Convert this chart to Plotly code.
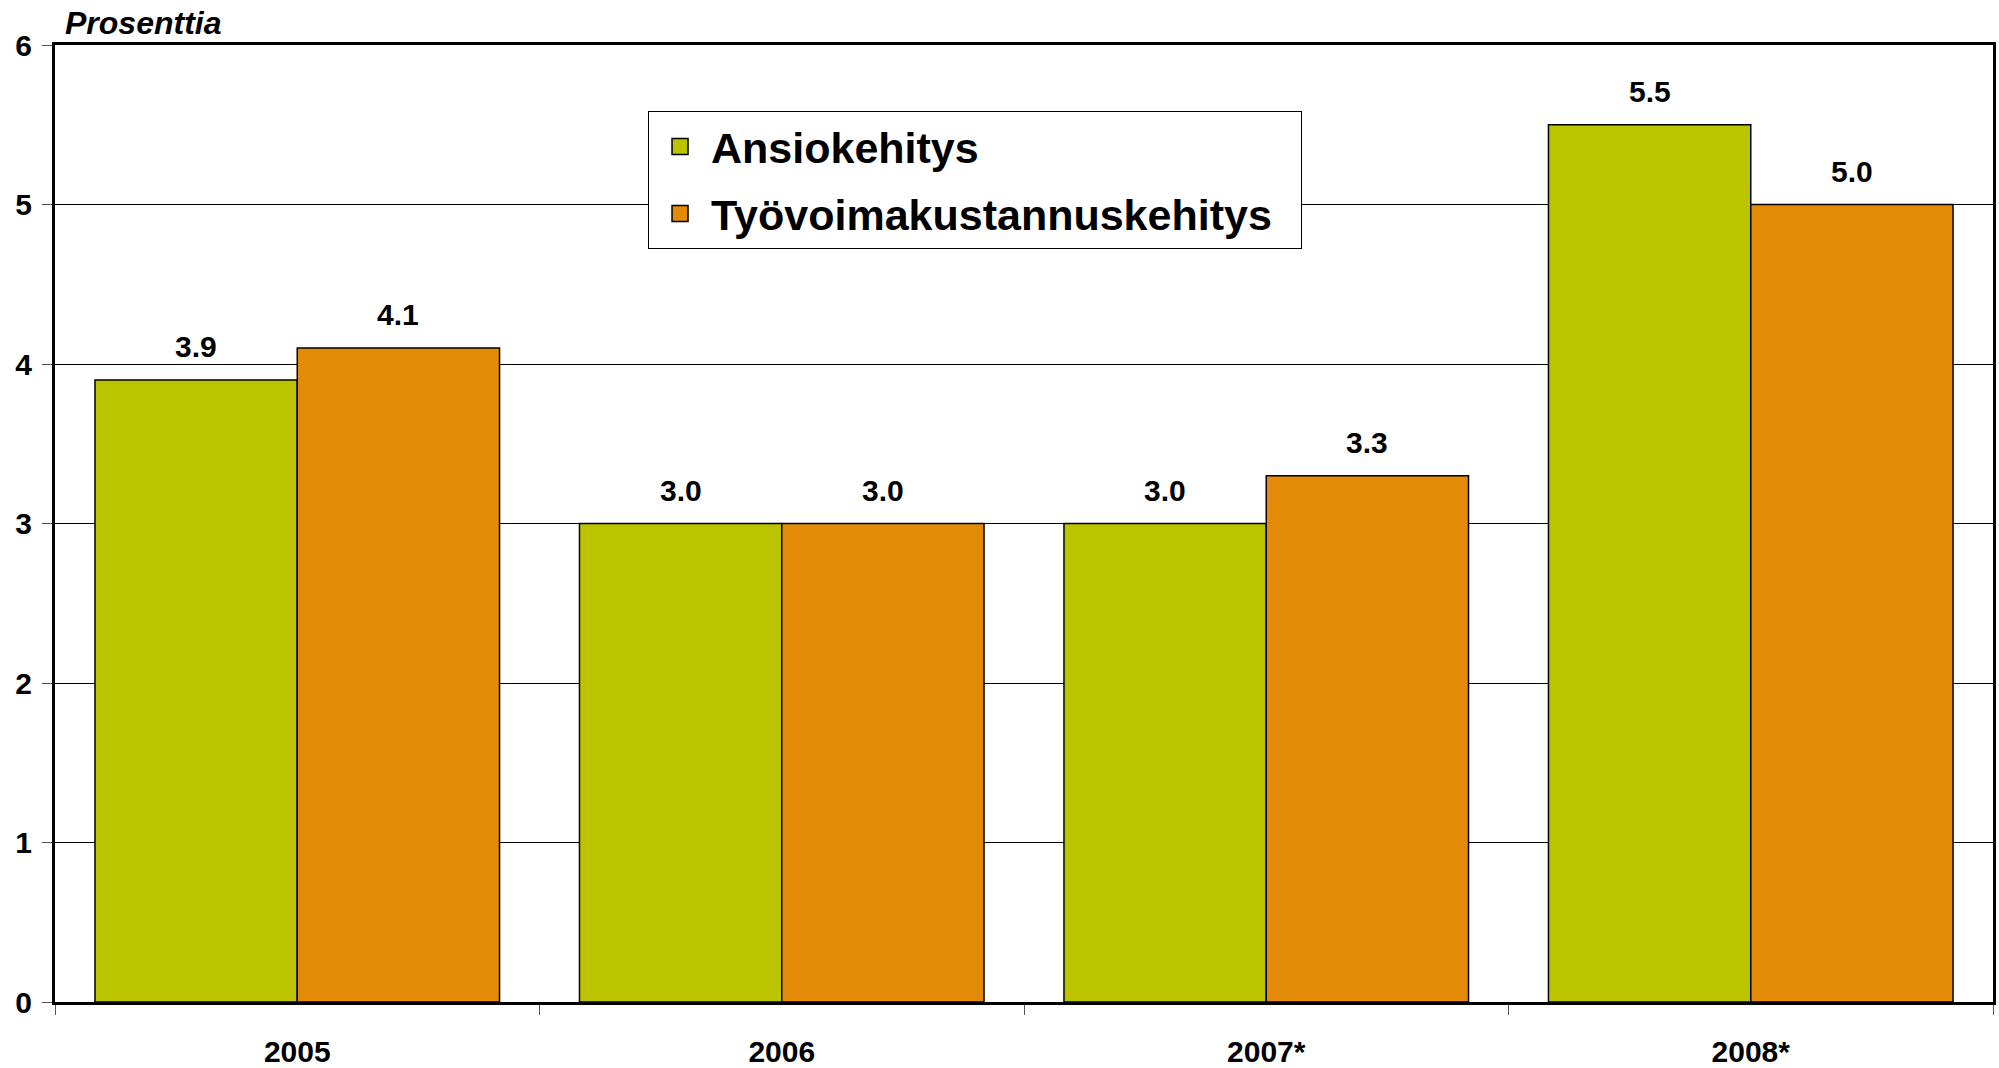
import plotly.graph_objects as go

categories = ["2005", "2006", "2007*", "2008*"]
ansio = [3.9, 3.0, 3.0, 5.5]
tyovoima = [4.1, 3.0, 3.3, 5.0]
series_names = ["Ansiokehitys", "Työvoimakustannuskehitys"]
colors = ["#BCC400", "#E38B08"]
y_ticks = [0, 1, 2, 3, 4, 5, 6]

FONT = "Liberation Sans, Arial, sans-serif"
BARGAP = 0.165

fig = go.Figure()
for i, (name, vals) in enumerate(zip(series_names, [ansio, tyovoima])):
    fig.add_trace(go.Bar(
        x=categories, y=vals, name=name,
        marker=dict(color=colors[i], line=dict(color="black", width=1.5)),
        showlegend=False,
    ))
# legend-only entries with larger square symbols
for i, name in enumerate(series_names):
    fig.add_trace(go.Scatter(
        x=[None], y=[None], mode="markers", name=f"<b>{name}</b>&nbsp;&nbsp;",
        marker=dict(symbol="square", size=30, color=colors[i],
                    line=dict(color="black", width=1.5)),
        legendgroup=f"g{i}",
    ))

offset = (1 - BARGAP) / 4
for si, vals in enumerate([ansio, tyovoima]):
    for ci, v in enumerate(vals):
        fig.add_annotation(
            x=ci + (-offset if si == 0 else offset), y=v,
            text=f"<b>{v:.1f}</b>", showarrow=False,
            yanchor="bottom", yshift=15,
            font=dict(family=FONT, size=30, color="black"),
        )

fig.add_annotation(
    xref="paper", yref="paper", x=0.004, y=1.0, yshift=2,
    xanchor="left", yanchor="bottom", showarrow=False,
    text="<b><i>Prosenttia</i></b>",
    font=dict(family=FONT, size=32, color="black"),
)

fig.update_layout(
    width=1999, height=1068,
    margin=dict(l=55, r=6, t=45, b=66),
    plot_bgcolor="white", paper_bgcolor="white",
    barmode="group", bargap=BARGAP, bargroupgap=0,
    font=dict(family=FONT, color="black"),
    showlegend=True,
    legend=dict(
        x=0.306, y=0.931, xanchor="left", yanchor="top",
        bgcolor="white", bordercolor="black", borderwidth=1,
        font=dict(family=FONT, size=43, color="black"),
        tracegroupgap=8, itemsizing="trace", itemwidth=52,
        traceorder="grouped",
    ),
    xaxis=dict(
        type="category", tickson="boundaries", ticks="outside", ticklen=10,
        tickcolor="#555555", tickwidth=1,
        showline=True, linecolor="black", linewidth=3, mirror=True,
        showgrid=False, automargin=False,
        tickfont=dict(family=FONT, size=30, color="black"),
        ticklabelstandoff=21,
    ),
    yaxis=dict(
        range=[0, 6], tickvals=y_ticks, ticktext=[f"<b>{t}</b>" for t in y_ticks],
        ticks="outside", ticklen=10, tickcolor="#555555",
        showline=True, linecolor="black", linewidth=3, mirror=True,
        showgrid=True, gridcolor="black", gridwidth=1,
        zeroline=False, automargin=False,
        tickfont=dict(family=FONT, size=30, color="black"),
        ticklabelstandoff=4,
    ),
)
fig.update_xaxes(ticktext=[f"<b>{c}</b>" for c in categories], tickvals=categories)

fig.write_html("out.html", config={"displayModeBar": False},
               post_script="document.body.style.margin='0';")
